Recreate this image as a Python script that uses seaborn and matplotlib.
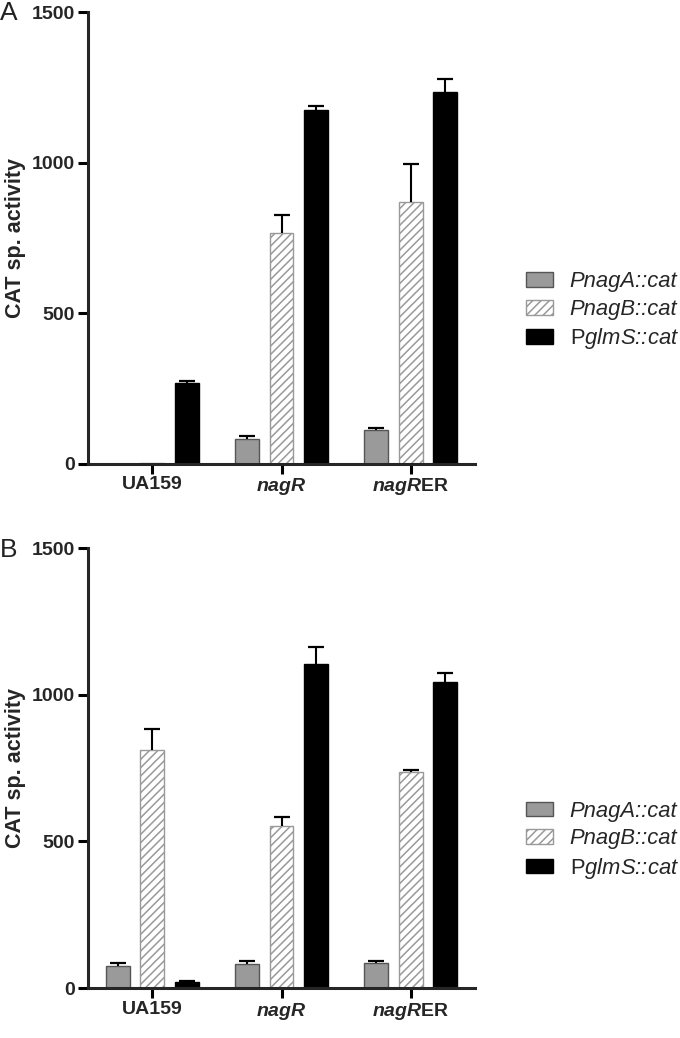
import numpy as np
import pandas as pd
import seaborn as sns
import matplotlib
matplotlib.use('Agg')
import matplotlib.pyplot as plt

strains = ['UA159', 'nagR', 'nagRER']
reporters = ['PnagA::cat', 'PnagB::cat', 'PglmS::cat']

# panel A values (mean) and upper error, one list per reporter
a_nagA = [0, 82, 113]
a_nagB = [3, 768, 870]
a_glmS = [269, 1175, 1235]
a_nagA_err = [0, 10, 5]
a_nagB_err = [0, 58, 126]
a_glmS_err = [6, 15, 44]

# panel B
b_nagA = [77, 83, 87]
b_nagB = [811, 552, 736]
b_glmS = [20, 1105, 1045]
b_nagA_err = [8, 8, 5]
b_nagB_err = [71, 32, 7]
b_glmS_err = [4, 58, 28]

tick_labels = ['UA159', r'$\mathbfit{nagR}$', r'$\mathbfit{nagR}\mathbf{ER}$']
legend_labels = ['PnagA::cat', 'PnagB::cat', r'$\mathrm{P}$glmS::cat']
colors = ['#9a9a9a', '#ffffff', '#000000']
edges = ['#555555', '#999999', '#000000']

sns.set_style('ticks')
plt.rcParams['font.family'] = ['Liberation Sans', 'DejaVu Sans']
plt.rcParams['mathtext.fontset'] = 'custom'
plt.rcParams['mathtext.rm'] = 'Liberation Sans'
plt.rcParams['mathtext.it'] = 'Liberation Sans:italic'
plt.rcParams['mathtext.bf'] = 'Liberation Sans:bold'
plt.rcParams['mathtext.bfit'] = 'Liberation Sans:italic:bold'
plt.rcParams['hatch.linewidth'] = 1.1


def panel(ax, vals, errs, leg_y):
    df = pd.DataFrame({
        'strain': strains * 3,
        'reporter': np.repeat(reporters, 3),
        'activity': np.concatenate(vals),
    })
    sns.barplot(data=df, x='strain', y='activity', hue='reporter',
                order=strains, hue_order=reporters, palette=colors,
                saturation=1, width=0.8, gap=0.31, errorbar=None,
                legend=False, linewidth=1, ax=ax)
    conts = list(ax.containers)
    for i, cont in enumerate(conts):
        for bar, e in zip(cont, errs[i]):
            bar.set_edgecolor(edges[i])
            if i == 1:
                bar.set_hatch('////')
            x = bar.get_x() + bar.get_width() / 2
            top = bar.get_height()
            if top > 5:
                ax.errorbar(x, top, yerr=[[0], [e]], fmt='none', ecolor='k',
                            elinewidth=1.5, capsize=0, zorder=1)
                ax.plot(x, top + e, marker='_', ms=11, mew=1.6, color='k',
                        zorder=1)
    ax.set_ylim(0, 1500)
    ax.set_xlim(-0.5, 2.5)
    ax.set_yticks([0, 500, 1000, 1500])
    ax.set_xticks(range(3))
    ax.set_xticklabels(tick_labels)
    ax.set_xlabel('')
    ax.set_ylabel('CAT sp. activity', fontsize=15.5, fontweight='bold',
                  labelpad=4)
    for lab in ax.get_yticklabels() + ax.get_xticklabels():
        lab.set_fontweight('bold')
        lab.set_fontsize(14)
    sns.despine(ax=ax)
    for s in ['left', 'bottom']:
        ax.spines[s].set_linewidth(2.2)
    ax.tick_params(axis='both', width=2.2, length=7, pad=2, color='k')
    handles = [plt.Rectangle((0, 0), 1, 1, facecolor=colors[i],
                             edgecolor=edges[i],
                             hatch='////' if i == 1 else None,
                             linewidth=1) for i in range(3)]
    ax.legend(handles, legend_labels, loc='center left',
              bbox_to_anchor=(0.773, leg_y), bbox_transform=fig.transFigure,
              frameon=False, prop={'style': 'italic', 'size': 15.8},
              handlelength=1.25, handleheight=0.65, handletextpad=0.75,
              labelspacing=0.3, borderpad=0, borderaxespad=0)


fig = plt.figure(figsize=(6.8, 10.38), dpi=100)
ax_a = fig.add_axes([0.129, 0.553, 0.570, 0.435])
ax_b = fig.add_axes([0.129, 0.048, 0.570, 0.424])

panel(ax_a, [a_nagA, a_nagB, a_glmS], [a_nagA_err, a_nagB_err, a_glmS_err], 0.700)
panel(ax_b, [b_nagA, b_nagB, b_glmS], [b_nagA_err, b_nagB_err, b_glmS_err], 0.190)

fig.text(0.0, 0.981, 'A', fontsize=19, color='#222222')
fig.text(0.0, 0.463, 'B', fontsize=19, color='#222222')

fig.savefig('out.png', dpi=100)
